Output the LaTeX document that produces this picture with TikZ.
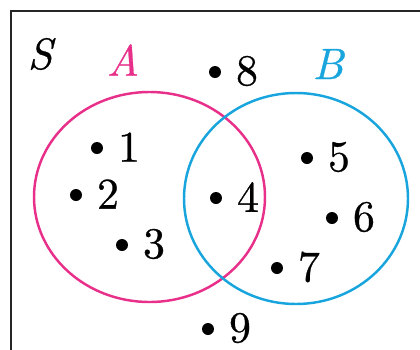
\documentclass[tikz,border=0pt]{standalone}
\usepackage{xcolor}
\usepackage{fontspec}
\newfontfamily\vennfont{lmroman10-regular.otf}[FakeBold=0.6, ItalicFont=lmroman10-italic.otf, ItalicFeatures={FakeBold=0.6}]
\definecolor{setpink}{RGB}{232,48,138}
\definecolor{setblue}{RGB}{24,164,220}
\tikzset{
 pt/.style={circle, fill=black, inner sep=0pt, minimum size=0.24cm},
 num/.style={inner sep=0pt, font=\vennfont\fontsize{25}{30}\selectfont},
 setname/.style={num, font=\vennfont\itshape\fontsize{25}{30}\selectfont},
}

\begin{document}
\begin{tikzpicture}[x=0.02cm, y=-0.02cm]
\clip (0,0) rectangle (420,349);
\draw[black!85, line width=1.4pt] (11,11) rectangle (440,380);
\draw[setpink, line width=1.4pt] (149.5,197) ellipse [x radius=115.5, y radius=105];
\draw[setblue, line width=1.4pt] (296,198.5) ellipse [x radius=112, y radius=105.5];
\node[setname] (S) at (40,54) {S};
\node[setname, text=setpink] (A) at (123,60) {A};
\node[setname, text=setblue] (B) at (328,64) {B};
\foreach \n/\x/\y in {1/97/148, 2/76/195, 3/122/245, 4/216/198, 5/307/158, 6/332/218, 7/277/268, 8/215/72, 9/208/329} {
 \node[pt] (p\n) at (\x,\y) {};
 \node[num] (n\n) at (\x+32,\y-1) {\n};
}
\end{tikzpicture}
\end{document}
